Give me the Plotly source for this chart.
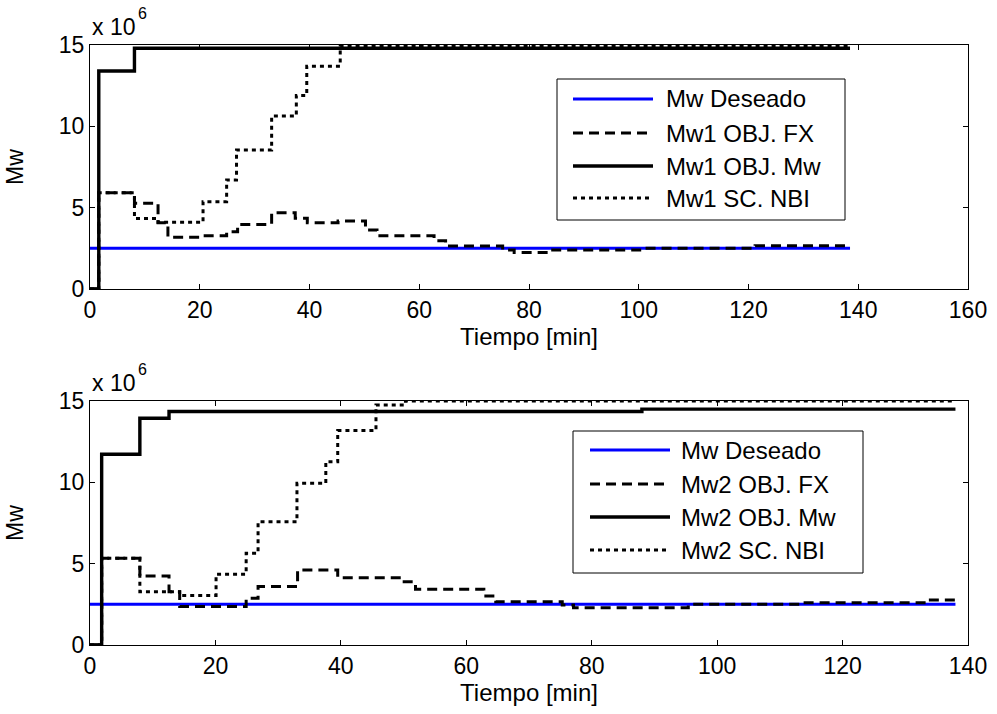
import plotly.graph_objects as go

W, H = 997, 714

# ---------------- data (values in units of 10^6) ----------------
# Top panel (Mw1)
t_des1 = [0, 138.5]
v_des1 = [2.5, 2.5]

t_fx1 = [0, 1.6, 8.1, 12.4, 14.2, 20.3, 24.9, 26.9, 33.1, 37.4, 39.6, 45.2, 50.2,
         52.3, 62.7, 64.8, 75.2, 77.3, 83.7, 100.8, 121.2, 138.5]
v_fx1 = [0, 5.92, 5.27, 4.08, 3.18, 3.27, 3.52, 3.97, 4.69, 4.35, 4.08, 4.18, 3.63,
         3.28, 2.97, 2.64, 2.40, 2.25, 2.40, 2.50, 2.66, 2.66]

t_mw1 = [0, 1.6, 8.1, 138.5]
v_mw1 = [0, 13.4, 14.8, 14.8]

t_nbi1 = [0, 1.6, 8.1, 12.4, 20.6, 24.9, 26.7, 33.1, 37.6, 39.5, 45.6, 138.5]
v_nbi1 = [0, 5.92, 4.34, 4.10, 5.37, 6.70, 8.54, 10.63, 11.90, 13.70, 14.95, 14.95]

# Bottom panel (Mw2)
t_des2 = [0, 138.0]
v_des2 = [2.5, 2.5]

t_fx2 = [0, 1.86, 7.95, 12.6, 14.3, 24.9, 26.8, 33.1, 39.5, 49.8, 51.9, 62.8, 64.7,
         75.3, 77.1, 95.4, 113.4, 134.0, 138.0]
v_fx2 = [0, 5.33, 4.24, 3.28, 2.36, 2.87, 3.59, 4.61, 4.14, 3.89, 3.43, 3.01, 2.66,
         2.46, 2.29, 2.50, 2.60, 2.77, 2.77]

t_mw2 = [0, 1.86, 7.95, 12.6, 88.0, 138.0]
v_mw2 = [0, 11.73, 13.94, 14.35, 14.50, 14.50]

t_nbi2 = [0, 1.86, 7.95, 14.3, 20.1, 24.9, 26.8, 33.0, 37.6, 39.5, 45.6, 50.3, 138.0]
v_nbi2 = [0, 5.33, 3.28, 3.05, 4.35, 5.64, 7.58, 9.94, 11.27, 13.18, 14.76, 15.0, 15.0]

names1 = ["Mw Deseado", "Mw1 OBJ. FX", "Mw1 OBJ. Mw", "Mw1 SC. NBI"]
names2 = ["Mw Deseado", "Mw2 OBJ. FX", "Mw2 OBJ. Mw", "Mw2 SC. NBI"]

x_ticks1 = [0, 20, 40, 60, 80, 100, 120, 140, 160]
x_ticks2 = [0, 20, 40, 60, 80, 100, 120, 140]
y_ticks = [0, 5, 10, 15]

# ---------------- styles ----------------
styles = [
    dict(color="#0000FF", width=3, dash="solid"),
    dict(color="black", width=3, dash="10px,6px"),
    dict(color="black", width=3.4, dash="solid"),
    dict(color="black", width=3, dash="4px,4px"),
]
FONT = "Liberation Sans, Arial, Helvetica, sans-serif"


def px(x):
    return x / W


def py(y):
    return 1 - y / H


fig = go.Figure()

series1 = [(t_des1, v_des1), (t_fx1, v_fx1), (t_mw1, v_mw1), (t_nbi1, v_nbi1)]
series2 = [(t_des2, v_des2), (t_fx2, v_fx2), (t_mw2, v_mw2), (t_nbi2, v_nbi2)]

for (t, v), name, st in zip(series1, names1, styles):
    fig.add_trace(go.Scatter(x=t, y=v, mode="lines", name=name, line_shape="hv",
                             line=st, xaxis="x", yaxis="y", showlegend=False))
for (t, v), name, st in zip(series2, names2, styles):
    fig.add_trace(go.Scatter(x=t, y=v, mode="lines", name=name, line_shape="hv",
                             line=st, xaxis="x2", yaxis="y2", showlegend=False))

axis_common = dict(showline=True, linecolor="black", linewidth=1, mirror="allticks",
                   ticks="inside", ticklen=5, tickwidth=1, tickcolor="black",
                   showgrid=False, zeroline=False, automargin=False,
                   tickfont=dict(family=FONT, size=23, color="black"))

xtitle = dict(text="Tiempo [min]", font=dict(family=FONT, size=24, color="black"), standoff=4)
ytitle = dict(text="Mw", font=dict(family=FONT, size=23, color="black"), standoff=28)

x_dom = [px(90), px(968)]
fig.update_layout(
    width=W, height=H,
    margin=dict(l=0, r=0, t=0, b=0),
    paper_bgcolor="white", plot_bgcolor="white",
    xaxis=dict(domain=x_dom, anchor="y", range=[0, 160], tickvals=x_ticks1, title=xtitle, **axis_common),
    yaxis=dict(domain=[py(289), py(45)], anchor="x", range=[0, 15], tickvals=y_ticks, title=ytitle, **axis_common),
    xaxis2=dict(domain=x_dom, anchor="y2", range=[0, 140], tickvals=x_ticks2, title=xtitle, **axis_common),
    yaxis2=dict(domain=[py(645), py(401)], anchor="x2", range=[0, 15], tickvals=y_ticks, title=ytitle, **axis_common),
    showlegend=False,
)

annotations = []
shapes = []

# exponent labels ("x 10" with a raised "6")
for y_top in [45, 401]:
    annotations.append(dict(text="x 10", x=px(90), y=py(y_top - 18), xref="paper", yref="paper",
                            showarrow=False, xanchor="left", yanchor="middle",
                            font=dict(family=FONT, size=23, color="black")))
    annotations.append(dict(text="6", x=px(136), y=py(y_top - 32), xref="paper", yref="paper",
                            showarrow=False, xanchor="left", yanchor="middle",
                            font=dict(family=FONT, size=16, color="black")))

# MATLAB-like legends
legends = [
    dict(box=(557, 79, 845, 220), rows=[99, 133, 166, 198], line=(573, 653), text_x=664, names=names1),
    dict(box=(573, 431, 863, 573), rows=[450, 484, 517, 550], line=(590, 670), text_x=679, names=names2),
]
for lg in legends:
    x0, y0, x1, y1 = lg["box"]
    shapes.append(dict(type="rect", xref="paper", yref="paper", x0=px(x0), y0=py(y1), x1=px(x1), y1=py(y0),
                       line=dict(color="black", width=1), fillcolor="white", layer="above"))
    for row_y, name, st in zip(lg["rows"], lg["names"], styles):
        shapes.append(dict(type="line", xref="paper", yref="paper", x0=px(lg["line"][0]), x1=px(lg["line"][1]),
                           y0=py(row_y), y1=py(row_y), line=st, layer="above"))
        annotations.append(dict(text=name, x=px(lg["text_x"]), y=py(row_y), xref="paper", yref="paper",
                                showarrow=False, xanchor="left", yanchor="middle",
                                font=dict(family=FONT, size=24, color="black")))

fig.update_layout(annotations=annotations, shapes=shapes)
fig.write_html("out.html")
